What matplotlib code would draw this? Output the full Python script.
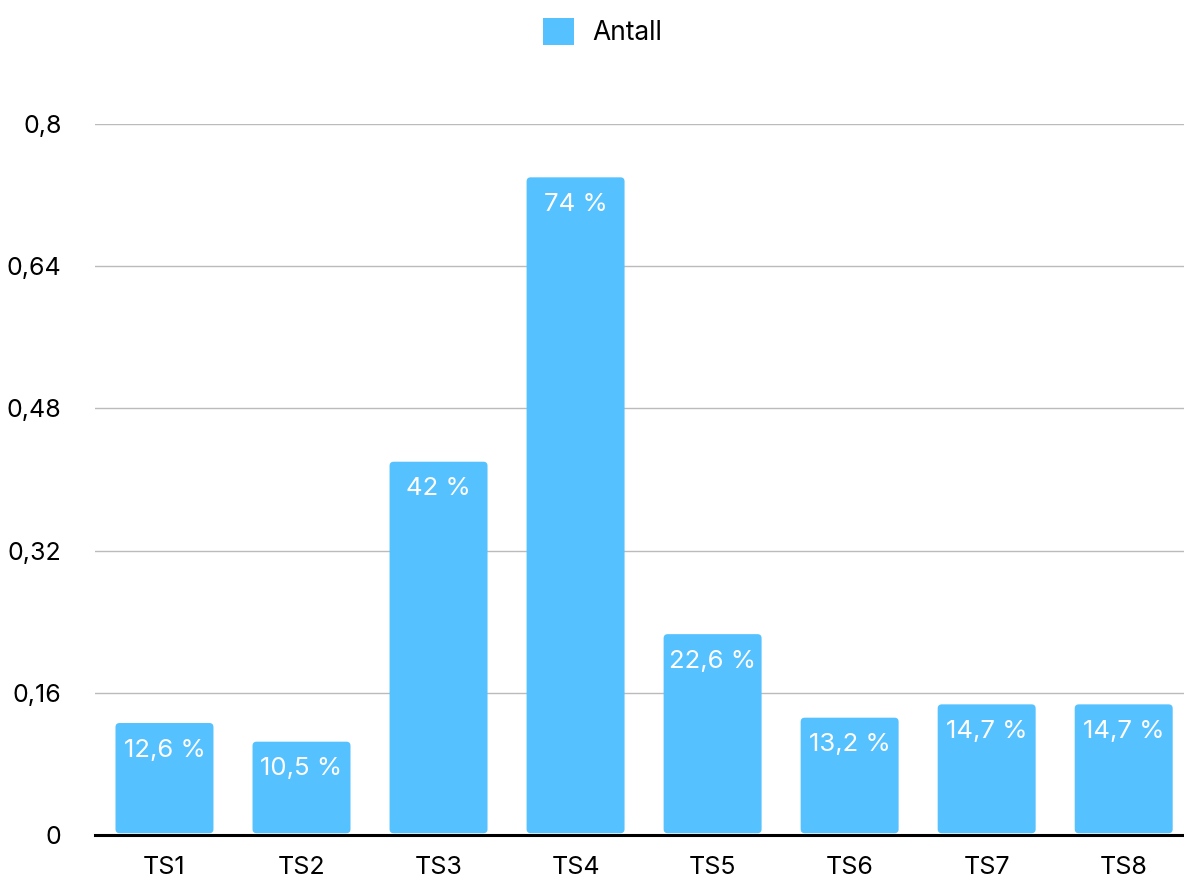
from matplotlib import pyplot
from matplotlib.patches import FancyBboxPatch, Patch
import matplotlib.ticker as ticker

categories = ['TS1', 'TS2', 'TS3', 'TS4', 'TS5', 'TS6', 'TS7', 'TS8']
values = [0.126, 0.105, 0.42, 0.74, 0.226, 0.132, 0.147, 0.147]
labels = ['12,6 %', '10,5 %', '42 %', '74 %', '22,6 %', '13,2 %', '14,7 %', '14,7 %']
yticks = [0, 0.16, 0.32, 0.48, 0.64, 0.8]
ytick_labels = ['0', '0,16', '0,32', '0,48', '0,64', '0,8']

pyplot.rcParams['font.family'] = ['Inter', 'DejaVu Sans']
color = '#56C1FF'

fig = pyplot.figure(figsize=(11.84, 8.81), dpi=100)
ax = fig.add_axes([95/1184, 46/881, 1 - 95/1184, (835-124)/881])
ax.set_xlim(-0.507, 7.44)
ax.set_ylim(0, 0.8)

# rounded bars
width = 0.715
px_x = 1089/(7.44+0.507)
px_y = 711/0.8
aspect = px_x/px_y
for i, v in enumerate(values):
    b = FancyBboxPatch((i - width/2, 0.002), width, v - 0.002,
                       boxstyle='round,pad=0,rounding_size=0.03',
                       mutation_aspect=aspect, fc=color, ec='none', zorder=3)
    ax.add_patch(b)
    ax.text(i, v - 27/px_y, labels[i], ha='center', va='center',
            color='white', fontsize=18.5, zorder=4)

ax.set_xticks(range(len(categories)))
ax.set_xticklabels(categories, fontsize=18)
ax.yaxis.set_major_locator(ticker.FixedLocator(yticks))
ax.set_yticklabels(ytick_labels, fontsize=18)
ax.tick_params(axis='both', length=0)
ax.tick_params(axis='y', pad=24)
ax.tick_params(axis='x', pad=15)

ax.grid(axis='y', color='#BBBBBB', linewidth=1, zorder=0)
for s in ['top', 'right', 'left']:
    ax.spines[s].set_visible(False)
ax.spines['bottom'].set_linewidth(2.2)
ax.spines['bottom'].set_zorder(5)

fig.legend(handles=[Patch(fc=color, ec='none', label='Antall')],
           loc='upper center', bbox_to_anchor=(0.509, 1.007), frameon=False,
           fontsize=19, handlelength=1.2, handleheight=1.2, handletextpad=0.7)

fig.savefig('out.png')
